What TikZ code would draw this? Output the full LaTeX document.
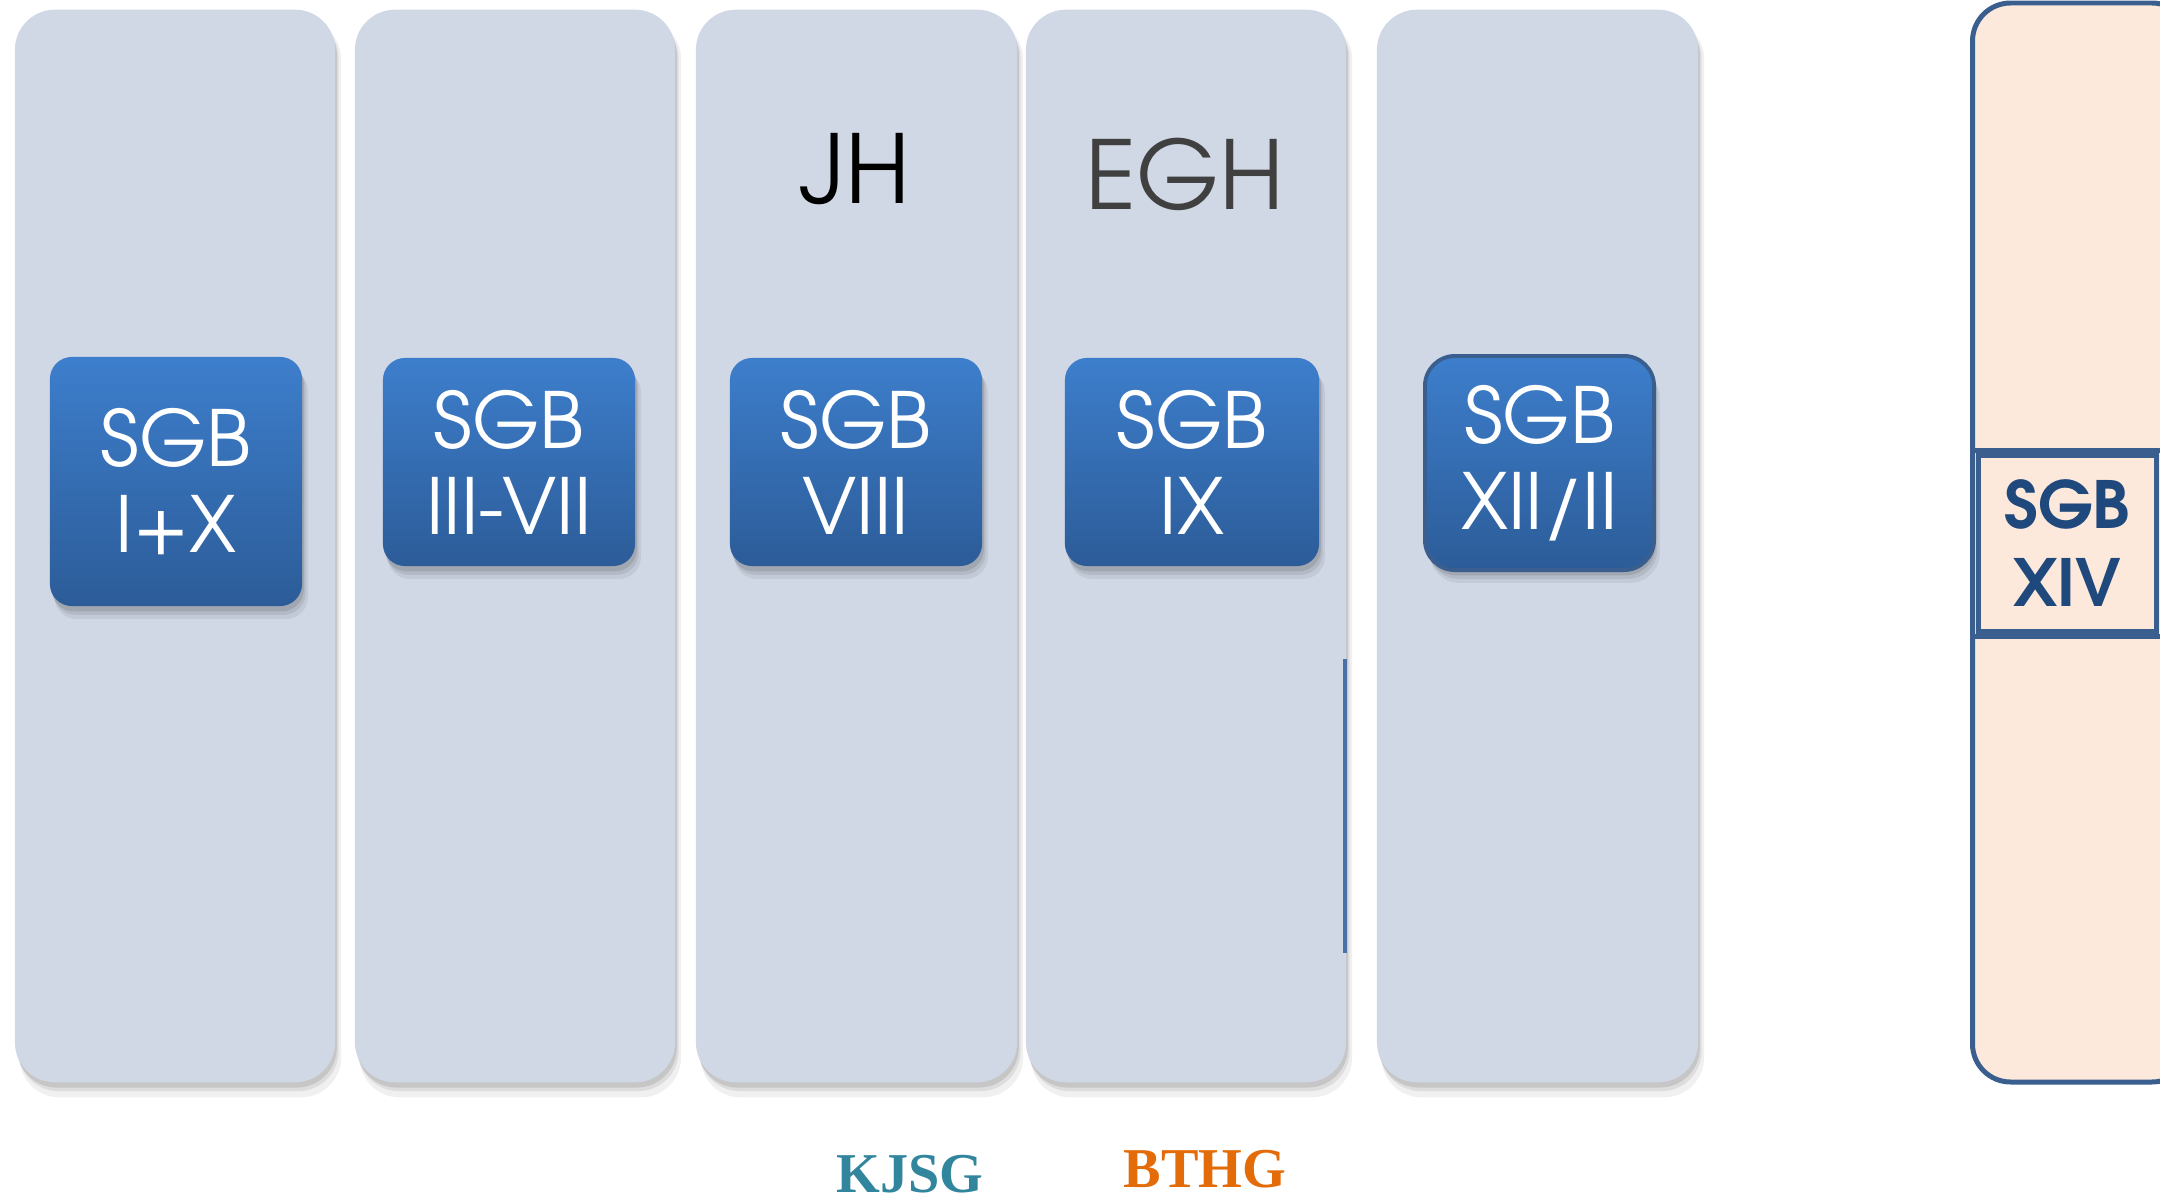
\documentclass[tikz,border=0pt]{standalone}
\usepackage{fontspec}
\usetikzlibrary{shadows}
\newfontfamily\adv{texgyreadventor}[Extension=.otf, UprightFont=*-regular, BoldFont=*-bold]
\newfontfamily\serifb{Liberation Serif}
\definecolor{colfill}{HTML}{D0D7E5}
\definecolor{bluetop}{HTML}{3D7ECC}
\definecolor{bluebot}{HTML}{2C5C98}
\definecolor{peach}{HTML}{FCE9DB}
\definecolor{frame}{HTML}{3A5F8F}
\definecolor{darkblue}{HTML}{1F497D}
\definecolor{teal}{HTML}{31859C}
\definecolor{orng}{HTML}{E36C09}
\definecolor{greytxt}{HTML}{404040}
\definecolor{thinline}{HTML}{4A70A8}
\tikzset{
  softshadow/.style={
    drop shadow={opacity=0.06, shadow xshift=1.5pt, shadow yshift=-3.5pt, shadow scale=1.005, fill=black},
    drop shadow={opacity=0.08, shadow xshift=1pt, shadow yshift=-2.5pt, fill=black},
    drop shadow={opacity=0.10, shadow xshift=0.5pt, shadow yshift=-1.5pt, fill=black}},
  column/.style={rectangle, fill=colfill, rounded corners=0.4cm,
    minimum height=10.72cm, inner sep=0pt, softshadow},
  sgbbox/.style={rectangle, rounded corners=0.22cm, top color=bluetop, bottom color=bluebot,
    inner sep=0pt, text=white, align=center,
    font=\adv\fontsize{22}{24.5}\selectfont, softshadow},
  headtxt/.style={inner sep=0pt, anchor=base, font=\adv\fontsize{27}{30}\selectfont},
  lawtxt/.style={inner sep=0pt, anchor=base, font=\serifb\bfseries\fontsize{16}{18}\selectfont},
}
\begin{document}
\begin{tikzpicture}[x=0.01cm, y=-0.01cm]
\useasboundingbox (0,0) rectangle (2160,1203);
% columns
\node[column, minimum width=3.2cm] (c1) at (175,546) {};
\node[column, minimum width=3.2cm] (c2) at (515,546) {};
\node[column, minimum width=3.21cm] (c3) at (856.5,546) {};
\node[column, minimum width=3.2cm] (c4) at (1186,546) {};
\node[column, minimum width=3.21cm] (c5) at (1537.5,546) {};
% thin blue line at right edge of column 4
\coordinate (l1) at (1345,659);
\coordinate (l2) at (1345,953);
\draw[thinline, line width=0.9pt] (l1) -- (l2);
% blue boxes
\node[sgbbox, minimum width=2.52cm, minimum height=2.49cm] (b1) at (176,481.5) {SGB\\I+X};
\node[sgbbox, minimum width=2.52cm, minimum height=2.08cm] (b2) at (509,462) {SGB\\III-VII};
\node[sgbbox, minimum width=2.52cm, minimum height=2.08cm] (b3) at (856,462) {SGB\\VIII};
\node[sgbbox, minimum width=2.54cm, minimum height=2.08cm] (b4) at (1192,462) {SGB\\IX};
\node[sgbbox, draw=frame, line width=1.1pt, rounded corners=0.3cm, minimum width=2.29cm, minimum height=2.14cm] (b5) at (1539.5,463) {SGB\\XII/II};
% headings
\node[headtxt, text=black] (jh) at (855,203) {JH};
\node[headtxt, text=greytxt] (egh) at (1185,209) {EGH};
% bottom labels
\node[lawtxt, text=teal] (kjsg) at (910,1192) {KJSG};
\node[lawtxt, text=orng] (bthg) at (1205,1187) {BTHG};
% SGB XIV column
\draw[frame, fill=peach, line width=1.42pt, rounded corners=0.38cm] (1972.5,3) rectangle (2190,1082);
\draw[frame, line width=1.42pt] (1972.5,450.5) rectangle (2190,636);
\node[draw=frame, line width=1.42pt, fill=peach, inner sep=0pt, minimum width=1.77cm, minimum height=1.755cm,
  text=darkblue, align=center, font=\adv\bfseries\fontsize{18.5}{22.2}\selectfont] (b14) at (2067.5,543.25) {SGB\\XIV};
\end{tikzpicture}
\end{document}
